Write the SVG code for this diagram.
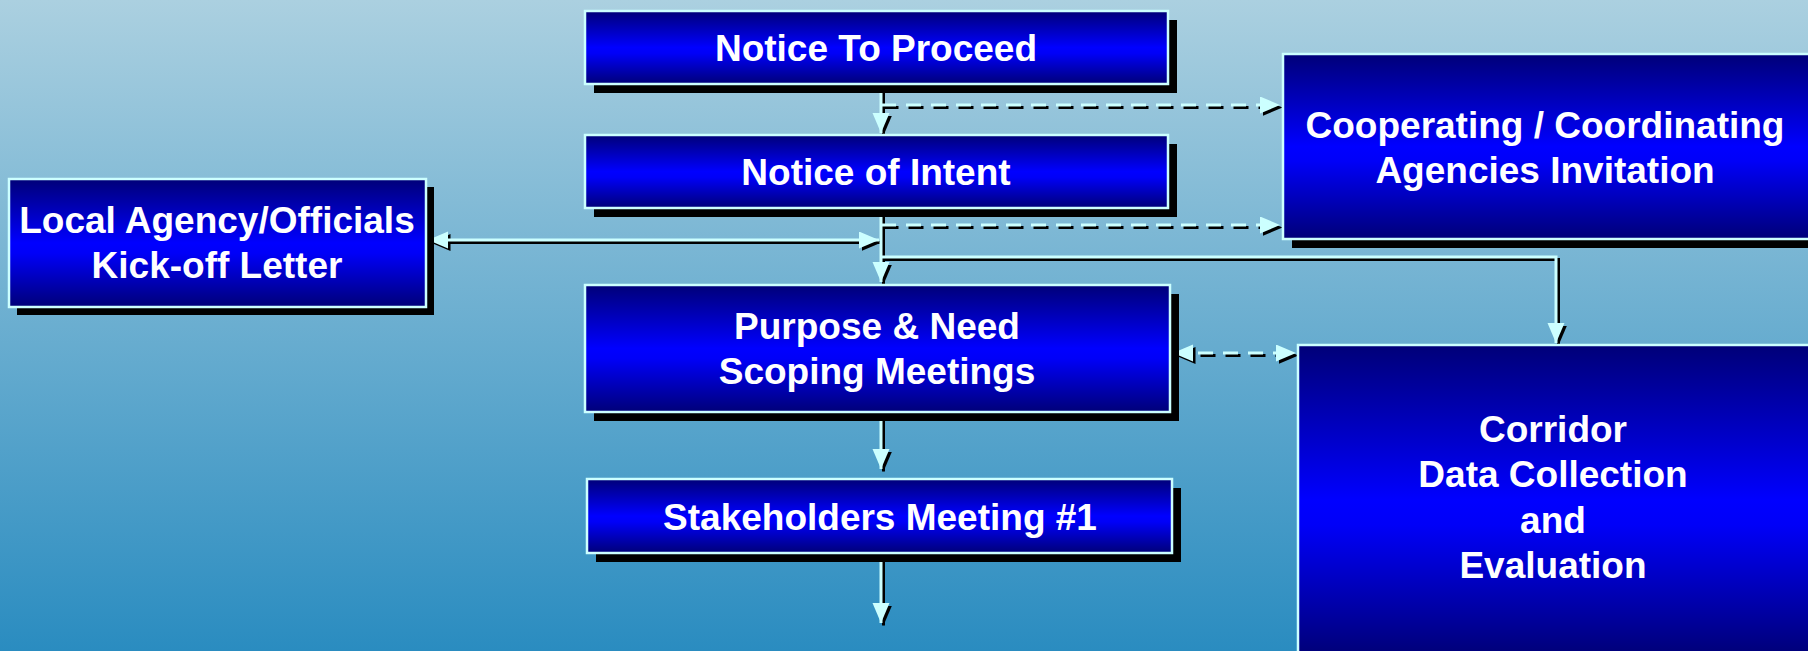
<svg xmlns="http://www.w3.org/2000/svg" width="1808" height="651" viewBox="0 0 1808 651">
<defs>
<linearGradient id="bg" x1="0" y1="0" x2="0" y2="1">
<stop offset="0" stop-color="#abd0e0"/>
<stop offset="1" stop-color="#2a8cc0"/>
</linearGradient>
<linearGradient id="boxg" x1="0" y1="0" x2="0" y2="1">
<stop offset="0" stop-color="#000078"/>
<stop offset="0.5" stop-color="#0000ff"/>
<stop offset="0.58" stop-color="#0000f8"/>
<stop offset="1" stop-color="#000078"/>
</linearGradient>
<marker id="ah" markerUnits="userSpaceOnUse" markerWidth="22" markerHeight="18" refX="20" refY="8.5" orient="auto-start-reverse">
<path d="M0,0 L20,8.5 L0,17 z" fill="#ccffff" stroke="none"/>
</marker>
<marker id="ahs" markerUnits="userSpaceOnUse" markerWidth="22" markerHeight="18" refX="20" refY="8.5" orient="auto-start-reverse">
<path d="M0,0 L20,8.5 L0,17 z" fill="#000" stroke="none"/>
</marker>
</defs>
<style>
.box{fill:url(#boxg);stroke:#ccffff;stroke-width:2.5}
.shd{fill:#000}
.t{font-family:"Liberation Sans",Arial,sans-serif;font-weight:bold;font-size:37px;fill:#fff;text-anchor:middle}
.ln{fill:none;stroke:#ccffff;stroke-width:3}
.lns{fill:none;stroke:#000;stroke-width:3}
.d{stroke-dasharray:15 10}
.e{marker-end:url(#ah)}
.s{marker-start:url(#ah)}
.es{marker-end:url(#ahs)}
.ss{marker-start:url(#ahs)}
</style>
<rect x="0" y="0" width="1808" height="651" fill="url(#bg)"/>

<g id="connectors">
<g transform="translate(2.5,2.5)">
<path class="lns es" d="M881,84 V133"/>
<path class="lns d es" d="M881,105 H1280"/>
<path class="lns es" d="M881,208 V282"/>
<path class="lns d es" d="M881,225 H1280"/>
<path class="lns es ss" d="M428,240 H879"/>
<path class="lns es" d="M881,257 H1556 V343"/>
<path class="lns d es ss" d="M1173,353 H1296"/>
<path class="lns es" d="M881,412 V469"/>
<path class="lns es" d="M881,553 V623"/>
</g>
<path class="ln e" d="M881,84 V133"/>
<path class="ln d e" d="M881,105 H1280"/>
<path class="ln e" d="M881,208 V282"/>
<path class="ln d e" d="M881,225 H1280"/>
<path class="ln e s" d="M428,240 H879"/>
<path class="ln e" d="M881,257 H1556 V343"/>
<path class="ln d e s" d="M1173,353 H1296"/>
<path class="ln e" d="M881,412 V469"/>
<path class="ln e" d="M881,553 V623"/>
</g>

<g id="notice-to-proceed">
<rect class="shd" x="594" y="20" width="583" height="73"/>
<rect class="box" x="585" y="11" width="583" height="73"/>
<text class="t" x="876" y="61">Notice To Proceed</text>
</g>

<g id="notice-of-intent">
<rect class="shd" x="594" y="144" width="583" height="73"/>
<rect class="box" x="585" y="135" width="583" height="73"/>
<text class="t" x="876" y="185">Notice of Intent</text>
</g>

<g id="local-agency">
<rect class="shd" x="17" y="187" width="417" height="128"/>
<rect class="box" x="9" y="179" width="417" height="128"/>
<text class="t" x="217" y="233">Local Agency/Officials</text>
<text class="t" x="217" y="278">Kick-off Letter</text>
</g>

<g id="cooperating">
<rect class="shd" x="1292" y="63" width="530" height="185"/>
<rect class="box" x="1283" y="54" width="530" height="185"/>
<text class="t" x="1545" y="138">Cooperating / Coordinating</text>
<text class="t" x="1545" y="183">Agencies Invitation</text>
</g>

<g id="purpose-need">
<rect class="shd" x="594" y="294" width="585" height="127"/>
<rect class="box" x="585" y="285" width="585" height="127"/>
<text class="t" x="877" y="339">Purpose &amp; Need</text>
<text class="t" x="877" y="384">Scoping Meetings</text>
</g>

<g id="stakeholders">
<rect class="shd" x="596" y="488" width="585" height="74"/>
<rect class="box" x="587" y="479" width="585" height="74"/>
<text class="t" x="880" y="530">Stakeholders Meeting #1</text>
</g>

<g id="corridor">
<rect class="box" x="1298" y="345" width="515" height="310"/>
<text class="t" x="1553" y="442">Corridor</text>
<text class="t" x="1553" y="487">Data Collection</text>
<text class="t" x="1553" y="533">and</text>
<text class="t" x="1553" y="578">Evaluation</text>
</g>
</svg>
